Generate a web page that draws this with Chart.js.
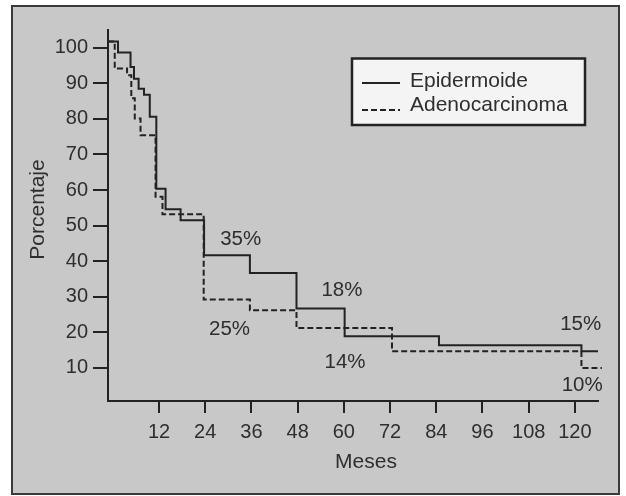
<!DOCTYPE html>
<html><head><meta charset="utf-8">
<script src="https://cdn.jsdelivr.net/npm/chart.js@4.4.0/dist/chart.umd.min.js"></script>
<style>html,body{margin:0;padding:0;background:#fff}#wrap{width:626px;height:496px}</style>
</head><body><div id="wrap"><canvas id="c" width="626" height="496"></canvas></div>
<script>
// ---- data ----
const seriesNames = ['Epidermoide', 'Adenocarcinoma'];
const epiMonths   = [-1.25, 1.35, 4.6, 5.5, 6.7, 8.1, 9.6, 11.3, 13.7, 17.6, 23.7, 35.6, 47.7, 60.2, 84.7, 121.7, 126];
const epiValues   = [101.8, 98.7, 94.6, 91.3, 88.5, 86.8, 80.6, 60.4, 54.6, 51.5, 41.7, 36.7, 26.7, 18.9, 16.4, 14.7, 14.7];
const adenoMonths = [-1.25, 0.5, 3.7, 4.8, 5.7, 7.2, 11.1, 12.9, 23.6, 35.6, 47.7, 72.5, 121.7, 127];
const adenoValues = [101.8, 94.2, 92.3, 85.8, 80.1, 75.4, 58.1, 53.2, 29.2, 26.2, 21.2, 14.7, 10.0, 10.0];
const xTicks = [12, 24, 36, 48, 60, 72, 84, 96, 108, 120];
const xTickLabels = ['12', '24', '36', '48', '60', '72', '84', '96', '108', '120'];
const yTicks = [10, 20, 30, 40, 50, 60, 70, 80, 90, 100];
const yTickLabels = ['10', '20', '30', '40', '50', '60', '70', '80', '90', '100'];
const noteTexts  = ['35%', '25%', '18%', '14%', '15%', '10%'];
const noteMonths = [33.2, 30.3, 59.5, 60.3, 121.5, 121.9];
const noteValues = [46.2, 20.8, 31.9, 11.6, 22.3, 5.2];
const xTitle = 'Meses';
const yTitle = 'Porcentaje';

const INK = '#222222';
const TXT = '#2e2e2e';
const FONT = '"Liberation Sans", Arial, Helvetica, sans-serif';

const toPts = (xs, ys) => xs.map((x, i) => ({x: x, y: ys[i]}));

const decor = {
  id: 'decor',
  beforeDraw(chart) {
    const ctx = chart.ctx;
    ctx.save();
    ctx.fillStyle = '#ffffff';
    ctx.fillRect(0, 0, chart.width, chart.height);
    ctx.fillStyle = '#c8c8c8';
    ctx.fillRect(12, 6, 607, 488);
    ctx.strokeStyle = '#3a3a3a';
    ctx.lineWidth = 2;
    ctx.strokeRect(12, 6, 607, 488);
    ctx.restore();
  },
  afterDraw(chart) {
    const ctx = chart.ctx;
    const xs = chart.scales.x, ys = chart.scales.y;
    ctx.save();
    ctx.fillStyle = TXT;
    // annotations
    ctx.font = '20.5px ' + FONT;
    ctx.textAlign = 'center';
    ctx.textBaseline = 'middle';
    noteTexts.forEach((t, i) => {
      ctx.fillText(t, xs.getPixelForValue(noteMonths[i]), ys.getPixelForValue(noteValues[i]));
    });
    // axis titles
    ctx.font = '21px ' + FONT;
    ctx.textBaseline = 'alphabetic';
    ctx.fillText(xTitle, 366, 468);
    ctx.save();
    ctx.translate(43.5, 209.5);
    ctx.rotate(-Math.PI / 2);
    ctx.fillText(yTitle, 0, 0);
    ctx.restore();
    // legend
    ctx.fillStyle = '#f4f4f4';
    ctx.fillRect(352, 58.5, 233, 66.5);
    ctx.strokeStyle = INK;
    ctx.lineWidth = 2.5;
    ctx.strokeRect(352, 58.5, 233, 66.5);
    const rows = [83, 110];
    const bases = [86.5, 111];
    chart.data.datasets.forEach((ds, i) => {
      ctx.strokeStyle = ds.borderColor;
      ctx.lineWidth = 2;
      ctx.setLineDash(ds.borderDash || []);
      ctx.beginPath();
      ctx.moveTo(362, rows[i]);
      ctx.lineTo(400, rows[i]);
      ctx.stroke();
      ctx.setLineDash([]);
      ctx.fillStyle = TXT;
      ctx.textAlign = 'left';
      ctx.font = '21px ' + FONT;
      ctx.fillText(ds.label, 410, bases[i]);
    });
    ctx.restore();
  }
};

new Chart(document.getElementById('c'), {
  type: 'line',
  data: {
    datasets: [
      {label: seriesNames[0], data: toPts(epiMonths, epiValues), stepped: true,
       borderColor: INK, borderWidth: 2, pointRadius: 0, fill: false, clip: false},
      {label: seriesNames[1], data: toPts(adenoMonths, adenoValues), stepped: true,
       borderColor: INK, borderWidth: 2, borderDash: [6, 3], pointRadius: 0, fill: false, clip: false}
    ]
  },
  options: {
    responsive: false,
    devicePixelRatio: 1,
    animation: false,
    layout: {padding: {left: 0, top: 30, right: 28, bottom: 0}},
    plugins: {legend: {display: false}, tooltip: {enabled: false}, title: {display: false}},
    scales: {
      x: {
        type: 'linear', min: -1.25, max: 126,
        afterBuildTicks: s => { s.ticks = xTicks.map(v => ({value: v})); },
        afterFit: s => { s.height = 95; },
        ticks: {
          autoSkip: false, maxRotation: 0, padding: 7, color: TXT,
          font: {family: FONT, size: 20},
          callback: v => { const k = xTicks.indexOf(v); return k >= 0 ? xTickLabels[k] : ''; }
        },
        grid: {display: true, drawOnChartArea: false, drawTicks: true, tickLength: 12, color: INK, lineWidth: 2},
        border: {display: true, color: INK, width: 2}
      },
      y: {
        type: 'linear', min: 0.7, max: 105,
        afterBuildTicks: s => { s.ticks = yTicks.map(v => ({value: v})); },
        afterFit: s => { s.width = 108; },
        ticks: {
          autoSkip: false, padding: 5, color: TXT,
          font: {family: FONT, size: 20},
          callback: v => { const k = yTicks.indexOf(v); return k >= 0 ? yTickLabels[k] : ''; }
        },
        grid: {display: true, drawOnChartArea: false, drawTicks: true, tickLength: 15, color: INK, lineWidth: 2},
        border: {display: true, color: INK, width: 2}
      }
    }
  },
  plugins: [decor]
});
</script>
</body></html>
